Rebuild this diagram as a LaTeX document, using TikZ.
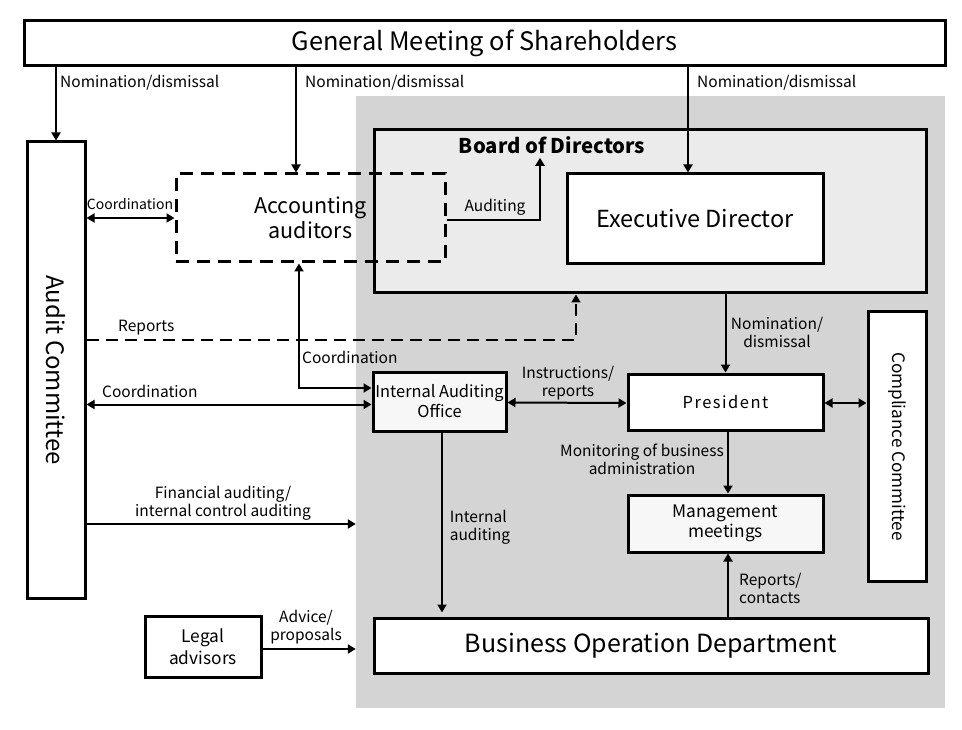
\documentclass[tikz,border=0pt]{standalone}
\usepackage{fontspec}
\setmainfont{Noto Sans CJK JP}
\usetikzlibrary{arrows.meta,positioning,calc}
\newcommand{\fsz}[2]{\fontsize{#1}{#2}\selectfont}

\begin{document}
\begin{tikzpicture}[
  x=1pt, y=-1pt,
  box/.style={draw, line width=3pt, fill=white, inner sep=0pt, align=center},
  dbox/.style={draw, line width=3pt, inner sep=0pt, align=center, dash pattern=on 13pt off 8pt},
  lbl/.style={inner sep=0pt, align=center, font=\fsz{15.5}{18}},
  arr/.style={line width=2pt, -{Triangle[length=8pt,width=9pt]}},
  darr/.style={line width=2pt, {Triangle[length=8pt,width=9pt]}-{Triangle[length=8pt,width=9pt]}}
]
\useasboundingbox (0,0) rectangle (962,730);

% Gray company area and board
\node[fill=black!17, minimum width=589pt, minimum height=612pt, inner sep=0pt] (grp) at (650.5,402) {};
\node[box, fill=black!8, minimum width=552pt, minimum height=163pt] (bod) at (650,211.5) {};
\node[font=\fsz{20.3}{24}\bfseries, inner sep=0pt] (bodt) at (552,145) {Board of Directors};

% Boxes
\node[box, minimum width=921pt, minimum height=45pt, font=\fsz{25.4}{30}] (gms) at (484.5,43.5) {General Meeting of Shareholders};
\node[box, minimum width=58pt, minimum height=456pt, font=\fsz{24}{28}] (aud) at (56,370) {\rotatebox{-90}{Audit Committee}};
\node[dbox, minimum width=269pt, minimum height=88pt, font=\fsz{21.5}{25}] (acc) at (310.5,218) {Accounting\\auditors};
\node[box, minimum width=256pt, minimum height=90pt, font=\fsz{23.5}{28}] (exe) at (695,219) {Executive Director};
\node[box, fill=black!3, minimum width=133pt, minimum height=59pt, font=\fsz{16.4}{20}] (iao) at (439.5,401.5) {Internal Auditing\\Office};
\node[box, minimum width=195pt, minimum height=56pt, font=\fsz{16.5}{20}\addfontfeature{LetterSpace=9}] (pre) at (725.5,402) {President};
\node[box, minimum width=58pt, minimum height=269pt, font=\fsz{17.2}{21}] (cmp) at (897,446.5) {\rotatebox{-90}{Compliance Committee}};
\node[box, fill=black!3, minimum width=195pt, minimum height=57pt, font=\fsz{17.3}{20}] (mgt) at (725.5,523.5) {Management\\meetings};
\node[box, minimum width=554pt, minimum height=55pt, font=\fsz{25}{30}] (bus) at (651,645.5) {Business Operation Department};
\node[box, minimum width=116pt, minimum height=61pt, font=\fsz{17.3}{22}] (leg) at (203,646.5) {Legal\\advisors};

% Helper points
\coordinate (accin) at ([xshift=-14.5pt]acc.north);
\coordinate (exein) at ([xshift=-7pt]exe.north);
\coordinate (fin) at ([yshift=-154pt]aud.east);
\coordinate (iaoc) at ([yshift=-3pt]iao.west);

% Connectors
\draw[arr] (aud.north |- gms.south) -- (aud.north);
\draw[arr] (accin |- gms.south) -- (accin);
\draw[arr] (exein |- gms.south) -- (exein);
\draw[darr] (aud.east |- acc.west) -- (acc.west);
\draw[arr] ([yshift=-2pt]acc.east) -| ([xshift=-12pt,yshift=-4pt]bodt.south);
\draw[arr, dash pattern=on 12pt off 7pt] ([yshift=30pt]aud.east) -| ([xshift=-74pt]bod.south);
\draw[darr] ([xshift=-11.5pt]acc.south) |- ([yshift=13.5pt]iao.west);
\draw[darr] (aud.east |- iaoc) -- (iaoc);
\draw[arr] (fin) -- (fin -| grp.west);
\draw[arr, shorten >=4pt] ([xshift=2.5pt]iao.south) -- ([xshift=2.5pt]iao.south |- bus.north);
\draw[arr] ([yshift=-2.5pt]leg.east) -- ([yshift=-2.5pt]leg.east -| grp.west);
\draw[darr] ([yshift=-1pt]iao.east) -- ([yshift=-1pt]pre.west);
\draw[arr] (pre.north |- bod.south) -- (pre.north);
\draw[darr] ([yshift=-1pt]pre.east) -- ([yshift=-1pt]pre.east -| cmp.west);
\draw[arr] ([xshift=2.5pt]pre.south) -- ([xshift=2.5pt]mgt.north);
\draw[arr] ([xshift=2.5pt]mgt.south |- bus.north) -- ([xshift=2.5pt]mgt.south);

% Labels
\node[lbl, anchor=west] (l1) at (60,83) {Nomination/dismissal};
\node[lbl, anchor=west] (l2) at (305,83) {Nomination/dismissal};
\node[lbl, anchor=west] (l3) at (697,83) {Nomination/dismissal};
\node[lbl, font=\fsz{14}{17}] (l4) at (130,204) {Coordination};
\node[lbl] (l5) at (495,207) {Auditing};
\node[lbl, anchor=west] (l6) at (118,328) {Reports};
\node[lbl, anchor=west] (l7) at (302,357) {Coordination};
\node[lbl, anchor=west] (l8) at (102,391) {Coordination};
\node[lbl] (l9) at (223,503) {Financial auditing/\\internal control auditing};
\node[lbl, align=left] (l10) at (480,527) {Internal\\auditing};
\node[lbl] (l11) at (306,627) {Advice/\\proposals};
\node[lbl] (l12) at (568,383) {Instructions/\\reports};
\node[lbl] (l13) at (777,332) {Nomination/\\dismissal};
\node[lbl] (l14) at (642,459) {Monitoring of business\\administration};
\node[lbl, align=left, anchor=west] (l15) at (739,588) {Reports/\\contacts};
\end{tikzpicture}
\end{document}
